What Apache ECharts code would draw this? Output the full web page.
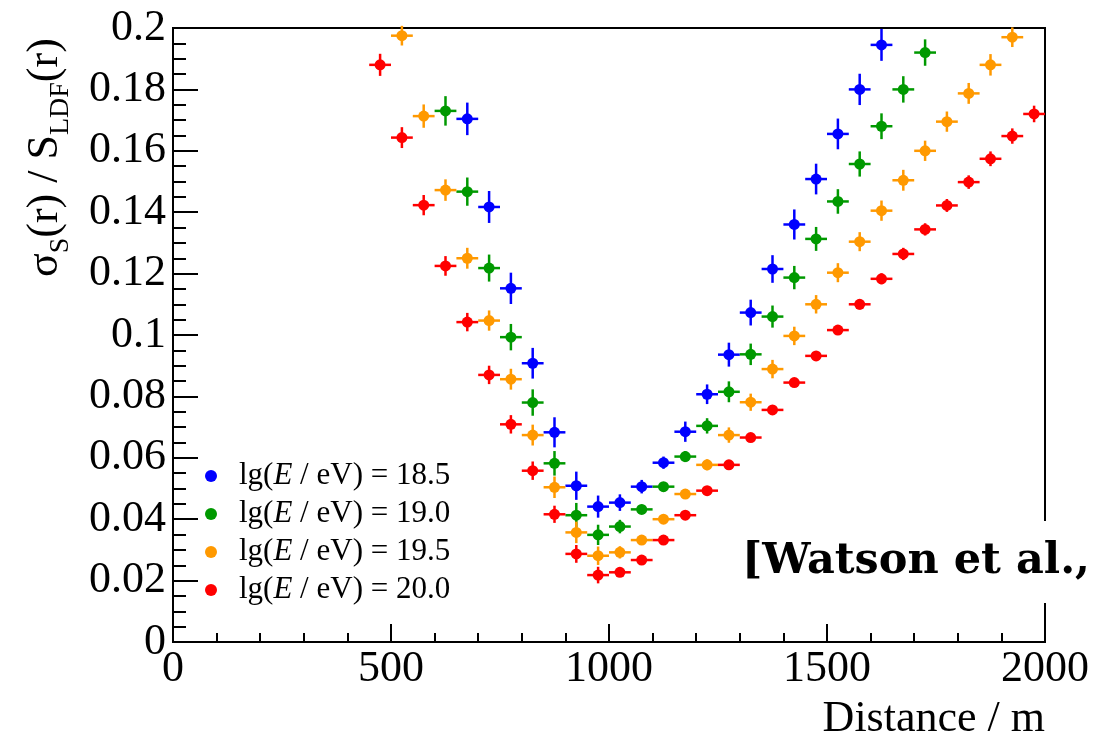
<!DOCTYPE html>
<html>
<head>
<meta charset="utf-8">
<script src="https://cdn.jsdelivr.net/npm/echarts@6/dist/echarts.min.js"></script>
<style>
html,body{margin:0;padding:0;background:#fff;}
#chart{width:1096px;height:738px;}
</style>
</head>
<body>
<div id="chart"></div>
<script>
// ---- data ----
const distances = [475, 525, 575, 625, 675, 725, 775, 825, 875, 925, 975, 1025, 1075, 1125, 1175, 1225,
  1275, 1325, 1375, 1425, 1475, 1525, 1575, 1625, 1675, 1725, 1775, 1825, 1875, 1925, 1975];
const binHalfWidth = 25;
const energyLabels = ['18.5', '19.0', '19.5', '20.0'];

const sigma185 = [null, null, null, null, 0.1704, 0.1417, 0.1152, 0.0908, 0.0683, 0.0509, 0.0441, 0.0454,
  0.0506, 0.0584, 0.0685, 0.0807, 0.0936, 0.1073, 0.1215, 0.1360, 0.1508, 0.1655, 0.1800, 0.1945,
  null, null, null, null, null, null, null];
const err185 = [null, null, null, null, 0.0053, 0.0052, 0.0051, 0.0050, 0.0049, 0.0046, 0.0036, 0.0027,
  0.0022, 0.0020, 0.0033, 0.0032, 0.0039, 0.0042, 0.0045, 0.0049, 0.0050, 0.0050, 0.0051, 0.0052,
  null, null, null, null, null, null, null];

const sigma190 = [null, null, null, 0.1730, 0.1467, 0.1218, 0.0993, 0.0780, 0.0582, 0.0413, 0.0349, 0.0376,
  0.0432, 0.0506, 0.0604, 0.0704, 0.0815, 0.0937, 0.1060, 0.1187, 0.1313, 0.1435, 0.1557, 0.1680,
  0.1800, 0.1920, null, null, null, null, null];
const err190 = [null, null, null, 0.0048, 0.0046, 0.0044, 0.0043, 0.0043, 0.0040, 0.0040, 0.0033, 0.0022,
  0.0015, 0.0015, 0.0018, 0.0025, 0.0034, 0.0035, 0.0036, 0.0038, 0.0039, 0.0040, 0.0041, 0.0042,
  0.0043, 0.0043, null, null, null, null, null];

const sigma195 = [null, 0.1975, 0.1713, 0.1472, 0.1250, 0.1047, 0.0856, 0.0674, 0.0504, 0.0357, 0.0281, 0.0292,
  0.0332, 0.0400, 0.0482, 0.0577, 0.0674, 0.0781, 0.0889, 0.0997, 0.1100, 0.1203, 0.1304, 0.1405,
  0.1504, 0.1600, 0.1695, 0.1787, 0.1880, 0.1970, null];
const err195 = [null, 0.0032, 0.0038, 0.0035, 0.0034, 0.0033, 0.0034, 0.0034, 0.0035, 0.0035, 0.0030, 0.0020,
  0.0015, 0.0015, 0.0015, 0.0018, 0.0025, 0.0028, 0.0030, 0.0030, 0.0030, 0.0031, 0.0031, 0.0033,
  0.0034, 0.0033, 0.0033, 0.0034, 0.0035, 0.0032, null];

const sigma200 = [0.1880, 0.1643, 0.1423, 0.1225, 0.1042, 0.0870, 0.0709, 0.0558, 0.0416, 0.0287, 0.0218, 0.0227,
  0.0267, 0.0332, 0.0413, 0.0493, 0.0577, 0.0666, 0.0756, 0.0845, 0.0932, 0.1016, 0.1100, 0.1183,
  0.1264, 0.1344, 0.1422, 0.1498, 0.1574, 0.1648, 0.1720];
const err200 = [0.0036, 0.0034, 0.0033, 0.0032, 0.0030, 0.0030, 0.0030, 0.0030, 0.0028, 0.0029, 0.0027, 0.0015,
  0.0012, 0.0012, 0.0012, 0.0012, 0.0012, 0.0012, 0.0012, 0.0012, 0.0012, 0.0015, 0.0017, 0.0018,
  0.0020, 0.0020, 0.0021, 0.0022, 0.0024, 0.0025, 0.0027];

const xTickLabels = ['0', '500', '1000', '1500', '2000'];
const yTickLabels = ['0', '0.02', '0.04', '0.06', '0.08', '0.1', '0.12', '0.14', '0.16', '0.18', '0.2'];

// ---- styling ----
const colors = ['#0000ff', '#009900', '#ff9900', '#ff0000'];
const allSigma = [sigma185, sigma190, sigma195, sigma200];
const allErr = [err185, err190, err195, err200];
const SERIF = '"Liberation Serif", "Times New Roman", serif';

function points(vals, errs) {
  const out = [];
  for (let i = 0; i < distances.length; i++) {
    if (vals[i] !== null) out.push([distances[i], vals[i], errs[i]]);
  }
  return out;
}

const series = [];
energyLabels.forEach((lab, k) => {
  const color = colors[k];
  const data = points(allSigma[k], allErr[k]);
  series.push({
    name: 'err' + lab,
    type: 'custom',
    z: 2,
    silent: true,
    encode: { x: 0, y: 1 },
    data: data,
    renderItem: function (params, api) {
      const x = api.value(0), y = api.value(1), e = api.value(2);
      const h0 = api.coord([x - binHalfWidth, y]);
      const h1 = api.coord([x + binHalfWidth, y]);
      const v0 = api.coord([x, y - e]);
      const v1 = api.coord([x, y + e]);
      return {
        type: 'group',
        children: [
          { type: 'line', shape: { x1: h0[0], y1: h0[1], x2: h1[0], y2: h1[1] },
            style: { stroke: color, lineWidth: 2.5 } },
          { type: 'line', shape: { x1: v0[0], y1: v0[1], x2: v1[0], y2: v1[1] },
            style: { stroke: color, lineWidth: 2.5 } }
        ]
      };
    }
  });
  series.push({
    name: lab,
    type: 'scatter',
    z: 3,
    symbol: 'circle',
    symbolSize: 11,
    itemStyle: { color: color, opacity: 1 },
    data: data.map(d => [d[0], d[1]])
  });
});

// y-axis title built from measured pieces (main text + subscripts)
const mctx = document.createElement('canvas').getContext('2d');
function textWidth(t, size) { mctx.font = size + 'px ' + SERIF; return mctx.measureText(t).width; }
const titleParts = [['σ', 44, false], ['S', 28, true], ['(r) / S', 44, false], ['LDF', 28, true], ['(r)', 44, false]];
const titleChildren = [];
let cx = 0;
titleParts.forEach(p => {
  titleChildren.push({
    type: 'text', x: cx, y: p[2] ? 8 : 0,
    style: { text: p[0], font: p[1] + 'px ' + SERIF, fill: '#000',
      textAlign: 'left', textVerticalAlign: 'bottom', align: 'left', verticalAlign: 'bottom' }
  });
  cx += textWidth(p[0], p[1]);
});

const chart = echarts.init(document.getElementById('chart'), null, { renderer: 'canvas' });
chart.setOption({
  animation: false,
  backgroundColor: '#fff',
  grid: { left: 173, right: 51, top: 28, bottom: 96, show: true, borderColor: '#000', borderWidth: 2,
    backgroundColor: 'transparent' },
  xAxis: {
    type: 'value', min: 0, max: 2000, interval: 500,
    axisLine: { show: true, onZero: false, lineStyle: { color: '#000', width: 2 } },
    axisTick: { show: true, inside: true, length: 18, lineStyle: { color: '#000', width: 2 } },
    minorTick: { show: true, splitNumber: 5, length: 9, lineStyle: { color: '#000', width: 2 } },
    splitLine: { show: false },
    axisLabel: { fontFamily: SERIF, fontSize: 44, color: '#000', margin: 5,
      showMinLabel: true, showMaxLabel: true,
      formatter: function (v) { return xTickLabels[Math.round(v / 500)]; } }
  },
  yAxis: {
    type: 'value', min: 0, max: 0.2, interval: 0.02,
    axisLine: { show: true, onZero: false, lineStyle: { color: '#000', width: 2 } },
    axisTick: { show: true, inside: true, length: 25, lineStyle: { color: '#000', width: 2 } },
    minorTick: { show: true, splitNumber: 4, length: 13, lineStyle: { color: '#000', width: 2 } },
    splitLine: { show: false },
    axisLabel: { fontFamily: SERIF, fontSize: 44, color: '#000', margin: 7,
      showMinLabel: true, showMaxLabel: true,
      formatter: function (v) { return yTickLabels[Math.round(v / 0.02)]; } }
  },
  legend: {
    orient: 'vertical', left: 205, top: 457, padding: 0, itemGap: 0,
    itemWidth: 46, itemHeight: 12, icon: 'circle', selectedMode: false,
    data: energyLabels,
    formatter: function (name) { return 'lg({i|E} / eV) = ' + name; },
    textStyle: { fontFamily: SERIF, fontSize: 31, lineHeight: 38, color: '#000',
      rich: { i: { fontFamily: SERIF, fontSize: 31, lineHeight: 38, fontStyle: 'italic', color: '#000' } } }
  },
  graphic: [
    { type: 'group', x: 67, y: 277, rotation: Math.PI / 2, z: 100, children: titleChildren },
    { type: 'text', right: 51, top: 697, z: 100,
      style: { text: 'Distance / m', font: '44px ' + SERIF, fill: '#000' } },
    { type: 'rect', shape: { x: 728, y: 521, width: 400, height: 82 }, z: 100,
      style: { fill: '#fff' } },
    { type: 'text', x: 742, y: 562, z: 101,
      style: { text: '[Watson et al.,', font: 'bold 43px "DejaVu Serif", serif', fill: '#000',
        textAlign: 'left', textVerticalAlign: 'middle', align: 'left', verticalAlign: 'middle' } }
  ],
  series: series
});
</script>
</body>
</html>
